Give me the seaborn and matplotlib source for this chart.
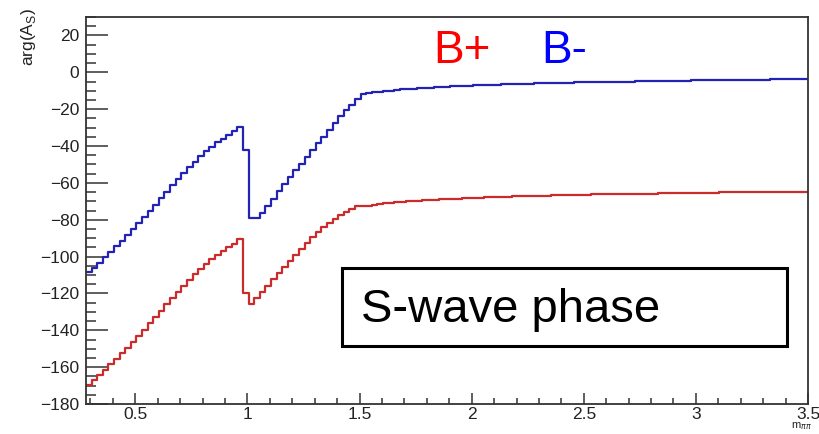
import numpy as np
import pandas as pd
import matplotlib
matplotlib.use("Agg")
import matplotlib.pyplot as plt
from matplotlib.patches import Rectangle
from matplotlib.ticker import MultipleLocator, FormatStrFormatter
import seaborn as sns

# Binning of the m_pipi axis (GeV): uniform bins starting at the 2*m_pi threshold
m_low = 0.28
bin_width = 0.025
n_bins = 129

# S-wave phase (degrees) per bin, B- decays
phase_bminus = [
    -108.5, -106.0, -103.5, -100.5, -97.5, -94.5, -91.5, -88.5, -85.3, -82.0,
    -78.7, -75.3, -71.8, -68.3, -64.8, -61.4, -58.0, -54.8, -51.6, -48.5,
    -45.6, -42.9, -40.4, -38.1, -36.0, -34.0, -32.0, -29.5,
    -42.0, -79.0, -79.0,
    -76.4, -72.5, -68.5, -64.6, -60.8, -57.0, -53.2, -49.5, -45.8, -42.1,
    -38.5, -34.9, -31.2, -27.4, -23.9, -20.6, -17.5, -14.6,
    -11.8, -11.3, -10.9, -10.5, -10.2, -9.9, -9.6, -9.3,
    -9.1, -8.9, -8.7, -8.5, -8.3, -8.1, -7.9, -7.8,
    -7.6, -7.5, -7.3, -7.2, -7.1, -7.0, -6.9, -6.8,
    -6.7, -6.6, -6.5, -6.4, -6.3, -6.2, -6.1, -6.0,
    -6.0, -5.9, -5.8, -5.7, -5.7, -5.6, -5.5, -5.5,
    -5.4, -5.3, -5.3, -5.2, -5.2, -5.1, -5.1, -5.0,
    -5.0, -4.9, -4.9, -4.8, -4.8, -4.7, -4.7, -4.6,
    -4.6, -4.5, -4.5, -4.4, -4.4, -4.4, -4.3, -4.3,
    -4.2, -4.2, -4.2, -4.1, -4.1, -4.1, -4.0, -4.0,
    -4.0, -3.9, -3.9, -3.9, -3.8, -3.8, -3.8, -3.7,
]

# S-wave phase (degrees) per bin, B+ decays
phase_bplus = [
    -169.5, -167.0, -164.5, -161.5, -158.5, -155.5, -152.5, -149.5, -146.3, -143.0,
    -139.7, -136.3, -132.8, -129.3, -125.8, -122.4, -119.0, -115.8, -112.6, -109.5,
    -106.6, -103.9, -101.4, -99.1, -97.0, -95.0, -93.0, -90.5,
    -119.6, -126.0, -122.5,
    -119.3, -115.7, -112.2, -108.8, -105.5, -102.2, -99.0, -95.8, -92.6, -89.5,
    -86.8, -84.2, -81.8, -79.6, -77.5, -75.6, -74.0, -72.8,
    -72.8, -72.3, -71.9, -71.5, -71.2, -70.9, -70.6, -70.3,
    -70.1, -69.9, -69.7, -69.5, -69.3, -69.1, -68.9, -68.8,
    -68.6, -68.5, -68.3, -68.2, -68.1, -68.0, -67.9, -67.8,
    -67.7, -67.6, -67.5, -67.4, -67.3, -67.2, -67.1, -67.0,
    -67.0, -66.9, -66.8, -66.7, -66.7, -66.6, -66.5, -66.5,
    -66.4, -66.3, -66.3, -66.2, -66.2, -66.1, -66.1, -66.0,
    -66.0, -65.9, -65.9, -65.8, -65.8, -65.7, -65.7, -65.6,
    -65.6, -65.5, -65.5, -65.4, -65.4, -65.4, -65.3, -65.3,
    -65.2, -65.2, -65.2, -65.1, -65.1, -65.1, -65.0, -65.0,
    -65.0, -64.9, -64.9, -64.9, -64.8, -64.8, -64.8, -64.7,
]

series_labels = ["B+", "B-"]
x_ticks = [0.5, 1, 1.5, 2, 2.5, 3, 3.5]
y_ticks = list(range(-180, 21, 20))

assert len(phase_bminus) == n_bins and len(phase_bplus) == n_bins

edges = m_low + bin_width * np.arange(n_bins + 1)


def step_frame(values, name):
    # histogram outline: one point per bin edge, last bin repeated at its upper edge
    return pd.DataFrame({"m": edges, "phase": list(values) + [values[-1]], "charge": name})


sns.set_style("white")
plt.rcParams["font.family"] = ["Liberation Sans", "DejaVu Sans"]

fig = plt.figure(figsize=(8.2, 4.34), dpi=100)
ax = fig.add_axes([86 / 820, 1 - 404 / 434, 722 / 820, 387 / 434])

line_colors = {"B+": "#cc2b2b", "B-": "#2222b4"}
for name, vals in zip(series_labels, [phase_bplus, phase_bminus]):
    sns.lineplot(data=step_frame(vals, name), x="m", y="phase", ax=ax,
                 drawstyle="steps-post", color=line_colors[name], lw=1.6,
                 estimator=None, sort=False)

ax.set_xlim(0.28, 3.5)
ax.set_ylim(-180, 30)
ax.set_xlabel("")
ax.set_ylabel("")

ax.set_xticks(x_ticks)
ax.xaxis.set_major_formatter(FormatStrFormatter("%g"))
ax.xaxis.set_minor_locator(MultipleLocator(0.1))
ax.set_yticks(y_ticks)
ax.yaxis.set_minor_locator(MultipleLocator(5))

frame_col = "#333333"
for sp in ax.spines.values():
    sp.set_color(frame_col)
    sp.set_linewidth(1.3)

ax.tick_params(axis="both", which="both", direction="in", color=frame_col,
               width=1.1, labelsize=12.5, labelcolor="#222222",
               bottom=True, left=True, top=False, right=False)
ax.tick_params(axis="x", which="major", length=8.2, pad=2)
ax.tick_params(axis="x", which="minor", length=4.1)
ax.tick_params(axis="y", which="major", length=15.5, pad=5)
ax.tick_params(axis="y", which="minor", length=7.5)

# axis titles in the corners
fig.text(28 / 820, 1 - 8 / 434, r"arg(A$_\mathregular{S}$)", rotation=90,
         ha="center", va="top", fontsize=12.5, color="#222222")
fig.text(812 / 820, 2 / 434, r"m$_{\pi\pi}$", ha="right", va="bottom",
         fontsize=8, color="#222222")

# charge labels
ax.text(0.481, 0.881, "B+", transform=ax.transAxes, color="#ff0000",
        fontsize=33, ha="left", va="baseline")
ax.text(0.630, 0.881, "B-", transform=ax.transAxes, color="#0000ff",
        fontsize=33, ha="left", va="baseline")

# boxed caption
ax.add_patch(Rectangle((0.3546, 0.1499), 0.971 - 0.3546, 0.3514 - 0.1499,
                       transform=ax.transAxes, fill=True, facecolor="white",
                       edgecolor="black", lw=2.2, zorder=5))
ax.text(0.381, 0.212, "S-wave phase", transform=ax.transAxes, fontsize=34,
        ha="left", va="baseline", color="black", zorder=6)

fig.savefig("out.png", dpi=100)
